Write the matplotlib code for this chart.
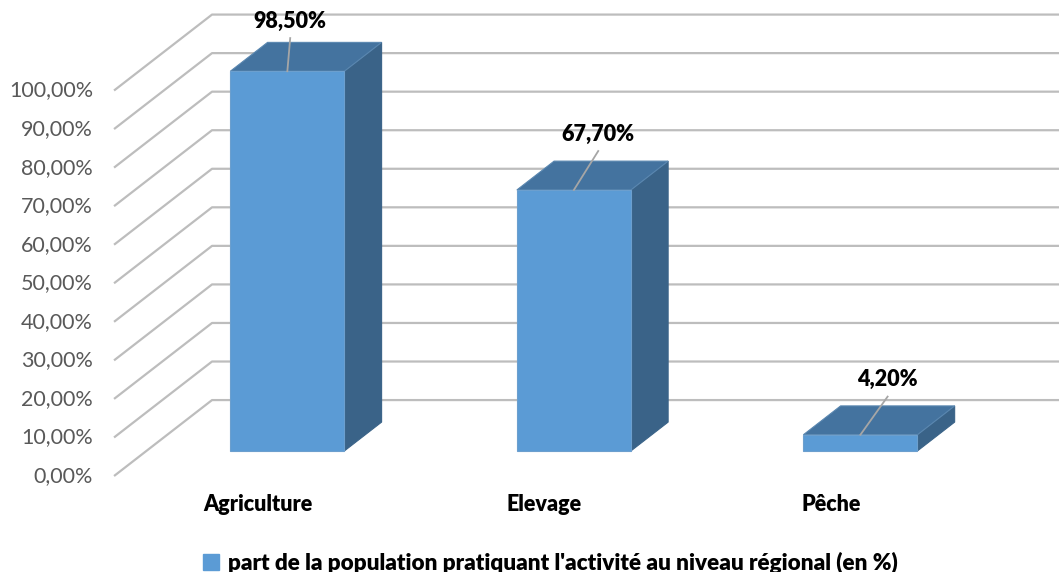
import matplotlib.pyplot as plt
from matplotlib.patches import Polygon, Patch

# DATA
categories = ['Agriculture', 'Elevage', 'Pêche']
values = [98.5, 67.7, 4.2]
value_labels = ['98,50%', '67,70%', '4,20%']
y_ticks = [0, 10, 20, 30, 40, 50, 60, 70, 80, 90, 100]
y_tick_labels = ['0,00%', '10,00%', '20,00%', '30,00%', '40,00%', '50,00%',
                 '60,00%', '70,00%', '80,00%', '90,00%', '100,00%']
legend_label = "part de la population pratiquant l'activité au niveau régional (en %)"

# 3D LOOK (depth vector of the box, in data units)
DX, DY = 0.342, 19.7
D0, D1 = 0.33, 0.71          # front / back depth of the bars
HALF_W = 0.199
WALL_X = -0.492
label_dx = [0.01, 0.085, 0.095]
label_dy = [13.0, 14.5, 14.3]

FRONT = '#5b9bd5'
TOP = '#44739f'
SIDE = '#3a6388'
GRID = '#bdbdbd'

plt.rcParams['font.family'] = ['Lato', 'DejaVu Sans']

fig = plt.figure(figsize=(10.59, 5.72), dpi=100)
ax = fig.add_axes([0, 0, 1, 1])
ax.set_xlim(-0.890, 2.806)
ax.set_ylim(-24.9, 123.48)
ax.axis('off')

# GRID: left wall diagonals + back wall horizontals
for v in y_ticks:
    ax.plot([WALL_X, WALL_X + DX, 3.0], [v, v + DY, v + DY],
            color=GRID, lw=1.6, solid_capstyle='butt', zorder=1)

# TICK LABELS
for v, lab in zip(y_ticks, y_tick_labels):
    ax.text(-0.565, v, lab, ha='right', va='center', fontsize=15.5, color='#595959')

# BARS
for i, (v, lab) in enumerate(zip(values, value_labels)):
    xl, xr = i - HALF_W, i + HALF_W
    a, b = D0 * DX, D0 * DY
    c, e = D1 * DX, D1 * DY
    side = Polygon([(xr + a, b), (xr + c, e), (xr + c, v + e), (xr + a, v + b)],
                   facecolor=SIDE, edgecolor=SIDE, lw=0.8, zorder=3)
    top = Polygon([(xl + a, v + b), (xr + a, v + b), (xr + c, v + e), (xl + c, v + e)],
                  facecolor=TOP, edgecolor='#5a87b0', lw=0.8, zorder=3)
    front = Polygon([(xl + a, b), (xr + a, b), (xr + a, v + b), (xl + a, v + b)],
                    facecolor=FRONT, edgecolor='#6c9fce', lw=0.8, zorder=4)
    for p in (side, top, front):
        ax.add_patch(p)

    # value label + leader line
    tx = i + a + label_dx[i]
    ty = v + b + label_dy[i]
    ax.text(tx, ty, lab, ha='center', va='center', fontsize=15.5,
            fontweight='heavy', color='black', zorder=6)
    ax.plot([tx, i + a], [ty - 4.4, v + b], color='#a6a6a6', lw=1.3, zorder=5)

    # category label
    ax.text(i + 0.01, -7.5, categories[i], ha='center', va='center',
            fontsize=15.5, fontweight='heavy', color='black')

# LEGEND
fig.legend(handles=[Patch(facecolor=FRONT, edgecolor=FRONT, label=legend_label)],
           loc='center', bbox_to_anchor=(0.52, 0.016), frameon=False,
           handlelength=0.7, handleheight=0.7, handletextpad=0.4,
           prop={'weight': 'heavy', 'size': 16.2})

fig.savefig('out.png', dpi=100)
